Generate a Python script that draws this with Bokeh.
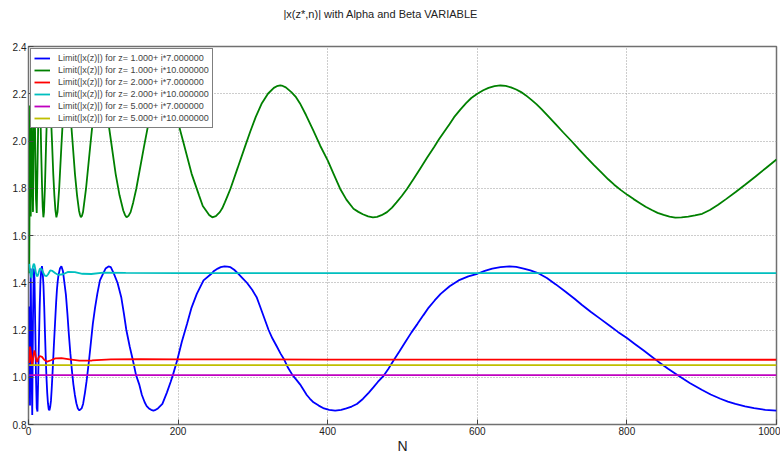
from bokeh.plotting import figure
from bokeh.models import FixedTicker, PrintfTickFormatter, Range1d, Title
from bokeh.embed import file_html
from bokeh.resources import INLINE

# ---- data ----
blue_n = [1, 2, 3, 4, 5, 6, 7, 8, 9, 10, 11, 12, 13, 14, 15, 16, 17, 18, 19, 20,
          21, 22, 23, 24, 25, 26, 27, 28, 29, 30, 31, 32, 33, 34, 35, 36, 37, 38, 39, 40,
          42, 44, 46, 48, 50, 52, 54, 56, 58, 60, 62, 64, 66, 68,
          71, 73, 75.5, 77.5, 78.6, 81, 83.5, 86, 89, 92, 95.5, 99.6, 103, 107,
          110, 114, 119, 124, 127.5, 130.8, 135.3, 139.4, 143.8, 148, 151.6, 155.3, 158, 161, 164, 167,
          170, 173, 179, 185, 190, 193, 199, 205, 212, 218, 225, 234, 244.5, 248, 253, 257, 262,
          266, 270, 275, 280, 286, 292, 299, 305, 309, 313, 317, 321, 326, 332, 337, 342,
          347, 353, 358, 363, 367, 372, 376, 381, 388, 395, 402, 410,
          418, 425, 432, 439, 447, 455, 461, 467, 475, 481, 488, 496, 504, 512, 520, 528, 535, 543,
          551, 563, 575, 588, 600, 610, 620, 631, 643,
          652, 662, 671, 681, 693, 705, 718, 730, 740, 752, 765, 777, 788, 800, 811, 822, 832, 842,
          855, 869, 884, 900, 912, 925, 935, 945, 958, 970, 985, 1000]
blue_v = [1.30, 0.88, 1.46, 1.05, 0.84, 1.25, 1.46, 1.42, 1.22, 1.00, 0.87, 0.855, 1.00, 1.16, 1.30, 1.41, 1.45, 1.47, 1.44, 1.39,
          1.30, 1.19, 1.09, 1.00, 0.935, 0.89, 0.865, 0.86, 0.875, 0.90, 0.95, 1.01, 1.074, 1.14, 1.20, 1.26, 1.32, 1.37, 1.405, 1.43,
          1.46, 1.47, 1.45, 1.40, 1.35, 1.27, 1.18, 1.10, 1.03, 0.97, 0.925, 0.89, 0.868, 0.86,
          0.868, 0.887, 0.935, 0.98, 1.009, 1.074, 1.15, 1.226, 1.295, 1.353, 1.41, 1.438, 1.46, 1.469,
          1.466, 1.44, 1.40, 1.339, 1.27, 1.20, 1.13, 1.074, 1.009, 0.97, 0.925, 0.894, 0.878, 0.868, 0.862, 0.859,
          0.862, 0.868, 0.887, 0.935, 0.98, 1.009, 1.074, 1.15, 1.226, 1.295, 1.353, 1.41, 1.438, 1.45, 1.46, 1.466, 1.469,
          1.468, 1.466, 1.455, 1.44, 1.42, 1.40, 1.37, 1.339, 1.305, 1.27, 1.235, 1.20, 1.165, 1.13, 1.10, 1.074,
          1.04, 1.009, 0.99, 0.97, 0.95, 0.925, 0.91, 0.894, 0.88, 0.868, 0.862, 0.859,
          0.862, 0.868, 0.876, 0.887, 0.908, 0.935, 0.957, 0.98, 1.007, 1.035, 1.071, 1.11, 1.15, 1.19, 1.226, 1.263, 1.295, 1.325,
          1.353, 1.385, 1.41, 1.427, 1.438, 1.45, 1.46, 1.466, 1.469,
          1.467, 1.46, 1.452, 1.441, 1.420, 1.393, 1.362, 1.332, 1.306, 1.276, 1.246, 1.218, 1.192, 1.166, 1.140, 1.114, 1.090, 1.066,
          1.036, 1.006, 0.976, 0.947, 0.927, 0.909, 0.897, 0.887, 0.877, 0.869, 0.862, 0.859]

green_n = [1, 2, 3, 4, 5, 6, 7, 8, 9, 10, 11, 12, 13, 14, 15, 16, 17, 18, 19,
           19.9, 20.7, 21.9, 23.4, 24.6, 25.9, 27.3, 28.5, 29.6, 31.4, 33.1, 34.6, 36.0,
           37.3, 38.8, 41.0, 43.9, 46.1, 48.6, 51.1, 53.3, 55.5, 58.8, 62.1, 64.9, 67.5, 68.8,
           70.0, 71.4, 72.9, 76.9, 82.4, 86.5, 91.2, 95.9, 100.1, 104.2, 110.3, 116.5, 121.7, 126.7, 129.0,
           131.1, 133.7, 136.5, 140.0, 144.1, 154.3, 162.0, 170.8, 179.6, 187.5, 195.2, 206.6, 218.1, 228.0, 233.0, 237.3, 241.5,
           245.7, 250.5, 255.8, 259, 262.5, 266, 270.0, 279.5, 289.2, 296.5, 303.7, 312, 320.1, 328, 332, 336.6,
           340, 344, 351.4, 357, 362.8, 371, 380.7, 390, 400, 408, 416.6, 425, 434.5, 441, 447, 454,
           460.5, 466, 472, 479.3, 486, 492, 499, 506.2, 515, 524, 533, 542.1, 549, 556, 563, 569, 577, 585, 592, 600,
           608, 615, 623, 630.8, 638, 645, 652, 658.6, 665, 672, 679, 685.5, 695, 705, 715, 725.8, 736, 746, 756,
           766.1, 775, 783, 792, 800.6, 809, 817, 825, 833.3, 841, 849, 857,
           864.7, 873, 882, 891, 900.6, 911, 922, 933, 945.4, 958, 972, 986, 1000]
green_v = [1.44, 2.15, 1.68, 2.21, 1.86, 1.70, 2.08, 2.225, 1.995, 1.755, 1.695, 1.88, 2.08, 2.21, 2.22, 2.11, 1.95, 1.82, 1.72,
           1.677, 1.699, 1.798, 1.974, 2.101, 2.200, 2.235, 2.207, 2.136, 2.000, 1.861, 1.770, 1.706,
           1.677, 1.699, 1.798, 1.974, 2.101, 2.200, 2.235, 2.207, 2.136, 2.000, 1.861, 1.770, 1.706, 1.688,
           1.677, 1.683, 1.699, 1.798, 1.974, 2.101, 2.200, 2.235, 2.207, 2.136, 2.000, 1.861, 1.770, 1.706, 1.687,
           1.677, 1.683, 1.699, 1.74, 1.798, 1.974, 2.101, 2.200, 2.235, 2.207, 2.136, 2.000, 1.861, 1.770, 1.725, 1.706, 1.687,
           1.677, 1.682, 1.699, 1.715, 1.74, 1.767, 1.798, 1.885, 1.974, 2.04, 2.101, 2.16, 2.200, 2.225, 2.232, 2.235,
           2.233, 2.227, 2.207, 2.188, 2.160, 2.11, 2.045, 1.98, 1.918, 1.86, 1.798, 1.752, 1.713, 1.70, 1.69, 1.681,
           1.677, 1.679, 1.686, 1.699, 1.718, 1.74, 1.767, 1.798, 1.84, 1.885, 1.93, 1.974, 2.008, 2.04, 2.072, 2.101, 2.132, 2.16, 2.182, 2.200,
           2.215, 2.225, 2.232, 2.235, 2.233, 2.227, 2.218, 2.207, 2.193, 2.175, 2.156, 2.136, 2.104, 2.07, 2.036, 2.000, 1.965, 1.931, 1.898,
           1.866, 1.838, 1.815, 1.792, 1.772, 1.754, 1.738, 1.722, 1.708, 1.696, 1.687, 1.680,
           1.676, 1.677, 1.680, 1.685, 1.692, 1.708, 1.73, 1.755, 1.784, 1.815, 1.85, 1.886, 1.922]

red_n = [1, 2, 3, 4, 5, 6, 7, 8, 9, 10, 11, 12, 13, 15, 18, 21, 25, 30, 36, 44, 55, 68, 85, 110, 150, 200, 400, 1000]
red_v = [1.06, 1.13, 1.11, 1.07, 1.05, 1.075, 1.10, 1.113, 1.10, 1.078, 1.066, 1.068, 1.08, 1.09, 1.086, 1.074,
         1.066, 1.072, 1.08, 1.081, 1.076, 1.07, 1.071, 1.076, 1.077, 1.076, 1.075, 1.074]

cyan_n = [1, 2, 3, 4, 5, 6, 7, 8, 9, 10, 11, 12, 13, 14, 15, 16, 18, 20, 22, 24, 26, 29, 32, 36, 40,
          46, 53, 62, 72, 84, 100, 130, 200, 1000]
cyan_v = [1.48, 1.455, 1.43, 1.42, 1.44, 1.47, 1.48, 1.475, 1.46, 1.44, 1.43, 1.428, 1.435, 1.448, 1.458, 1.46,
          1.455, 1.44, 1.43, 1.428, 1.435, 1.452, 1.45, 1.44, 1.433, 1.436, 1.446, 1.445, 1.438, 1.437,
          1.443, 1.442, 1.441, 1.441]

magenta_n = [1, 1000]
magenta_v = [1.009, 1.009]

yellow_n = [1, 1000]
yellow_v = [1.051, 1.051]

labels = ["Limit(|x(z)|) for z= 1.000+ i*7.000000",
          "Limit(|x(z)|) for z= 1.000+ i*10.000000",
          "Limit(|x(z)|) for z= 2.000+ i*7.000000",
          "Limit(|x(z)|) for z= 2.000+ i*10.000000",
          "Limit(|x(z)|) for z= 5.000+ i*7.000000",
          "Limit(|x(z)|) for z= 5.000+ i*10.000000"]
colors = ["#0000ff", "#008000", "#ff0000", "#00bfbf", "#bf00bf", "#bfbf00"]

x_ticks = [0, 200, 400, 600, 800, 1000]
y_ticks = [0.8, 1.0, 1.2, 1.4, 1.6, 1.8, 2.0, 2.2, 2.4]

title_text = "|x(z*,n)| with Alpha and Beta VARIABLE"
xlabel_text = "N"

# ---- figure ----
p = figure(width=780, height=456, output_backend="svg", toolbar_location=None,
           x_range=Range1d(0, 1000), y_range=Range1d(0.8, 2.4),
           min_border_left=28, min_border_right=4, min_border_top=46, min_border_bottom=32,
           background_fill_color="white", border_fill_color="white")

# real title (outermost slot of the top panel)
p.title.text = title_text
p.title.align = "left"
p.title.offset = 255
p.title.standoff = 10
p.title.text_font = "Liberation Sans"
p.title.text_font_size = "11px"
p.title.text_font_style = "normal"
p.title.text_color = "#222222"
# blank spacer between title and frame
p.add_layout(Title(text=" ", standoff=8, text_font="Liberation Sans", text_font_size="11px"), "above")

series = [(blue_n, blue_v), (green_n, green_v), (red_n, red_v),
          (cyan_n, cyan_v), (magenta_n, magenta_v), (yellow_n, yellow_v)]
for (xs, ys), lab, col in zip(series, labels, colors):
    p.line(xs, ys, line_color=col, line_width=1.8, legend_label=lab)

p.outline_line_color = "#707070"
p.outline_line_width = 1.5

for ax in (p.xaxis, p.yaxis):
    ax.axis_line_color = None
    ax.major_tick_in = 5
    ax.major_tick_out = 0
    ax.major_tick_line_color = "#444444"
    ax.minor_tick_line_color = None
    ax.major_label_text_font = "Liberation Sans"
    ax.major_label_text_font_size = "10px"
    ax.major_label_text_color = "#222222"

p.xaxis.ticker = FixedTicker(ticks=x_ticks)
p.yaxis.ticker = FixedTicker(ticks=y_ticks)
p.yaxis.formatter = PrintfTickFormatter(format="%.1f")
p.xaxis.formatter = PrintfTickFormatter(format="%d")
p.xaxis.major_label_standoff = 2
p.yaxis.major_label_standoff = 2
p.xaxis.axis_label = xlabel_text
p.xaxis.axis_label_standoff = 0
p.xaxis.axis_label_text_font = "Liberation Sans"
p.xaxis.axis_label_text_font_size = "14px"
p.xaxis.axis_label_text_font_style = "normal"
p.xaxis.axis_label_text_color = "#222222"

p.grid.grid_line_color = "#9a9a9a"
p.grid.grid_line_dash = "1 2"
p.grid.grid_line_width = 1

lg = p.legend[0]
lg.location = "top_left"
lg.margin = 2
lg.padding = 3
lg.spacing = 0
lg.label_height = 12
lg.glyph_height = 12
lg.glyph_width = 16
lg.label_standoff = 8
lg.label_text_font = "Liberation Sans"
lg.label_text_font_size = "9px"
lg.border_line_color = "black"
lg.border_line_width = 1
lg.background_fill_alpha = 1.0

open("out.html", "w").write(file_html(p, INLINE))
